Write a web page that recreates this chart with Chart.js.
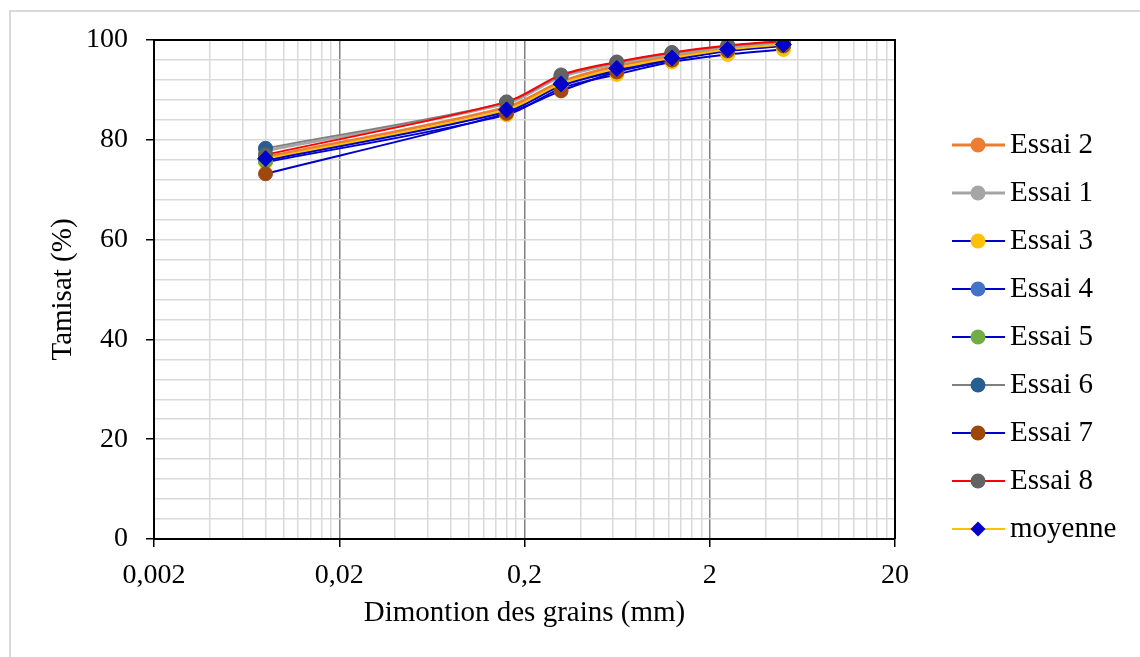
<!DOCTYPE html>
<html>
<head>
<meta charset="utf-8">
<script src="https://cdn.jsdelivr.net/npm/chart.js@4.4.1/dist/chart.umd.min.js"></script>
<style>
  html, body { margin: 0; padding: 0; background: #fff; }
  #frame { position: absolute; left: 9px; top: 10px; width: 1200px; height: 700px;
           border-top: 2px solid #D9D9D9; border-left: 2px solid #D9D9D9; }
  #chart { position: absolute; left: 0; top: 0; }
</style>
</head>
<body>
<div id="frame"></div>
<canvas id="chart" width="1140" height="657"></canvas>
<script>
// sieve openings (mm)
const grainSizes = [0.008, 0.16, 0.315, 0.63, 1.25, 2.5, 5];

// passing (%) per test
const essai2 = [76.5, 86.5, 91.6, 94.8, 96.8, 98.3, 99.3];
const essai1 = [77.8, 87.3, 92.6, 95.3, 97.2, 98.6, 99.5];
const essai3 = [75.5, 85.0, 90.3, 93.1, 95.6, 97.1, 98.1];
const essai4 = [75.8, 85.6, 90.8, 93.8, 96.0, 97.8, 98.8];
const essai5 = [76.0, 85.8, 91.0, 94.0, 96.2, 98.0, 99.0];
const essai6 = [78.3, 87.5, 92.8, 95.5, 97.4, 98.8, 99.7];
const essai7 = [73.2, 85.3, 89.8, 93.6, 96.0, 97.9, 98.9];
const essai8 = [77.0, 87.6, 93.0, 95.6, 97.5, 98.9, 99.8];
const moyenne = [76.2, 86.0, 91.2, 94.3, 96.4, 98.1, 99.1];

const seriesNames = ['Essai 2', 'Essai 1', 'Essai 3', 'Essai 4', 'Essai 5', 'Essai 6', 'Essai 7', 'Essai 8', 'moyenne'];
const seriesValues = [essai2, essai1, essai3, essai4, essai5, essai6, essai7, essai8, moyenne];

// x axis decades and their labels
const xDecades = [0.002, 0.02, 0.2, 2, 20];
const xDecadeLabels = ['0,002', '0,02', '0,2', '2', '20'];
const yLabelStep = 20;

const lineColors = ['#ED7D31', '#A5A5A5', '#0000C8', '#0000C8', '#0000C8', '#808080', '#0000C8', '#FF0000', '#FFC000'];
const markerColors = ['#ED7D31', '#A5A5A5', '#FFC000', '#4472C4', '#70AD47', '#255E91', '#9E480E', '#636363', '#0000C8'];
const lineWidths = [3, 3, 2, 2, 2, 2, 2, 2, 2];

const FONT = '"Liberation Serif", "Times New Roman", serif';

const datasets = seriesValues.map((vals, i) => ({
    label: seriesNames[i],
    data: vals.map((v, j) => ({ x: grainSizes[j], y: v })),
    borderColor: lineColors[i],
    borderWidth: lineWidths[i],
    backgroundColor: markerColors[i],
    pointBackgroundColor: markerColors[i],
    pointBorderColor: markerColors[i],
    pointBorderWidth: 1,
    pointStyle: i === seriesValues.length - 1 ? 'rectRot' : 'circle',
    pointRadius: i === seriesValues.length - 1 ? 8 : 7,
    tension: 0.3,
    fill: false,
    order: seriesValues.length - i
}));

// log ticks: decades + 2..9 multiples
function buildXTicks() {
    const ticks = [];
    xDecades.forEach((d, i) => {
        ticks.push({ value: d, major: true, lab: xDecadeLabels[i] });
        if (i < xDecades.length - 1) {
            for (let k = 2; k <= 9; k++) ticks.push({ value: d * k, major: false, lab: '' });
        }
    });
    return ticks;
}

const frameAndLegend = {
    id: 'frameAndLegend',
    afterDraw(chart) {
        const ctx = chart.ctx;
        const a = chart.chartArea;
        ctx.save();
        ctx.strokeStyle = '#000';
        ctx.lineWidth = 2;
        ctx.beginPath();
        ctx.moveTo(a.left, a.top);
        ctx.lineTo(a.right, a.top);
        ctx.lineTo(a.right, a.bottom);
        ctx.stroke();

        // legend
        chart.data.datasets.forEach((ds, i) => {
            const y = 145 + i * 48;
            ctx.strokeStyle = ds.borderColor;
            ctx.lineWidth = ds.borderWidth;
            ctx.beginPath();
            ctx.moveTo(952, y);
            ctx.lineTo(1005, y);
            ctx.stroke();
            ctx.fillStyle = ds.pointBackgroundColor;
            ctx.beginPath();
            if (ds.pointStyle === 'rectRot') {
                const r = 7.5;
                ctx.moveTo(978, y - r);
                ctx.lineTo(978 + r, y);
                ctx.lineTo(978, y + r);
                ctx.lineTo(978 - r, y);
                ctx.closePath();
            } else {
                ctx.arc(978, y, 7.5, 0, Math.PI * 2);
            }
            ctx.fill();
            ctx.fillStyle = '#000';
            ctx.font = '29px ' + FONT;
            ctx.textAlign = 'left';
            ctx.textBaseline = 'middle';
            ctx.fillText(ds.label, 1010, y);
        });
        ctx.restore();
    }
};

new Chart(document.getElementById('chart'), {
    type: 'line',
    data: { datasets: datasets },
    options: {
        responsive: false,
        animation: false,
        devicePixelRatio: 1,
        layout: { padding: { left: 0, top: 40, right: 245, bottom: 0 } },
        plugins: {
            legend: { display: false },
            tooltip: { enabled: false }
        },
        scales: {
            x: {
                type: 'logarithmic',
                min: 0.002,
                max: 20,
                afterBuildTicks: scale => { scale.ticks = buildXTicks(); },
                afterFit: scale => { scale.height = 118; },
                grid: {
                    color: c => (c.tick && c.tick.major) ? '#808080' : '#D9D9D9',
                    lineWidth: 1.5,
                    tickColor: c => (c.tick && c.tick.major) ? '#000' : 'rgba(0,0,0,0)',
                    tickLength: 8
                },
                border: { color: '#000', width: 2 },
                ticks: {
                    autoSkip: false,
                    maxRotation: 0,
                    padding: 12,
                    color: '#000',
                    font: { family: FONT, size: 28 },
                    callback: (value, index, ticks) => ticks[index].lab
                },
                title: {
                    display: true,
                    text: 'Dimontion des grains (mm)',
                    color: '#000',
                    font: { family: FONT, size: 29 },
                    padding: { top: 0, bottom: 26 }
                }
            },
            y: {
                min: 0,
                max: 100,
                afterFit: scale => { scale.width = 154; },
                grid: {
                    color: '#D9D9D9',
                    lineWidth: 1.5,
                    tickColor: c => (c.tick && c.tick.value % yLabelStep === 0) ? '#000' : 'rgba(0,0,0,0)',
                    tickLength: 8
                },
                border: { color: '#000', width: 2 },
                ticks: {
                    stepSize: 4,
                    autoSkip: false,
                    padding: 18,
                    color: '#000',
                    font: { family: FONT, size: 28 },
                    callback: v => (v % yLabelStep === 0) ? String(v) : ''
                },
                title: {
                    display: true,
                    text: 'Tamisat (%)',
                    color: '#000',
                    font: { family: FONT, size: 29 },
                    padding: { top: 46, bottom: 0 }
                }
            }
        }
    },
    plugins: [frameAndLegend]
});
</script>
</body>
</html>
